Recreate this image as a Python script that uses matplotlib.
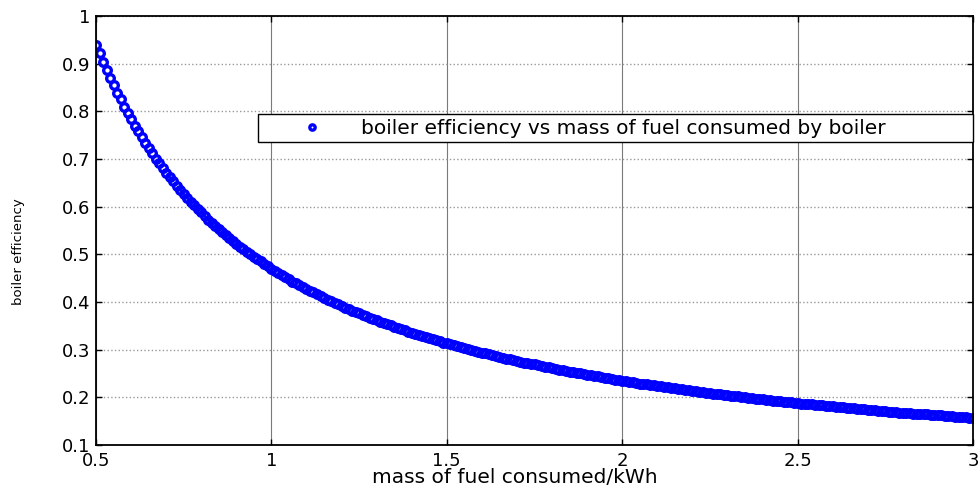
import matplotlib
matplotlib.use("Agg")
import matplotlib.pyplot as plt

plt.rcParams['font.family'] = ['DejaVu Sans']

mass = [
    0.50, 0.51, 0.52, 0.53, 0.54, 0.55, 0.56, 0.57, 0.58, 0.59,
    0.60, 0.61, 0.62, 0.63, 0.64, 0.65, 0.66, 0.67, 0.68, 0.69,
    0.70, 0.71, 0.72, 0.73, 0.74, 0.75, 0.76, 0.77, 0.78, 0.79,
    0.80, 0.81, 0.82, 0.83, 0.84, 0.85, 0.86, 0.87, 0.88, 0.89,
    0.90, 0.91, 0.92, 0.93, 0.94, 0.95, 0.96, 0.97, 0.98, 0.99,
    1.00, 1.01, 1.02, 1.03, 1.04, 1.05, 1.06, 1.07, 1.08, 1.09,
    1.10, 1.11, 1.12, 1.13, 1.14, 1.15, 1.16, 1.17, 1.18, 1.19,
    1.20, 1.21, 1.22, 1.23, 1.24, 1.25, 1.26, 1.27, 1.28, 1.29,
    1.30, 1.31, 1.32, 1.33, 1.34, 1.35, 1.36, 1.37, 1.38, 1.39,
    1.40, 1.41, 1.42, 1.43, 1.44, 1.45, 1.46, 1.47, 1.48, 1.49,
    1.50, 1.51, 1.52, 1.53, 1.54, 1.55, 1.56, 1.57, 1.58, 1.59,
    1.60, 1.61, 1.62, 1.63, 1.64, 1.65, 1.66, 1.67, 1.68, 1.69,
    1.70, 1.71, 1.72, 1.73, 1.74, 1.75, 1.76, 1.77, 1.78, 1.79,
    1.80, 1.81, 1.82, 1.83, 1.84, 1.85, 1.86, 1.87, 1.88, 1.89,
    1.90, 1.91, 1.92, 1.93, 1.94, 1.95, 1.96, 1.97, 1.98, 1.99,
    2.00, 2.01, 2.02, 2.03, 2.04, 2.05, 2.06, 2.07, 2.08, 2.09,
    2.10, 2.11, 2.12, 2.13, 2.14, 2.15, 2.16, 2.17, 2.18, 2.19,
    2.20, 2.21, 2.22, 2.23, 2.24, 2.25, 2.26, 2.27, 2.28, 2.29,
    2.30, 2.31, 2.32, 2.33, 2.34, 2.35, 2.36, 2.37, 2.38, 2.39,
    2.40, 2.41, 2.42, 2.43, 2.44, 2.45, 2.46, 2.47, 2.48, 2.49,
    2.50, 2.51, 2.52, 2.53, 2.54, 2.55, 2.56, 2.57, 2.58, 2.59,
    2.60, 2.61, 2.62, 2.63, 2.64, 2.65, 2.66, 2.67, 2.68, 2.69,
    2.70, 2.71, 2.72, 2.73, 2.74, 2.75, 2.76, 2.77, 2.78, 2.79,
    2.80, 2.81, 2.82, 2.83, 2.84, 2.85, 2.86, 2.87, 2.88, 2.89,
    2.90, 2.91, 2.92, 2.93, 2.94, 2.95, 2.96, 2.97, 2.98, 2.99,
    3.00,
]

efficiency = [
    0.940, 0.922, 0.904, 0.887, 0.870, 0.855, 0.839, 0.825, 0.810, 0.797,
    0.783, 0.770, 0.758, 0.746, 0.734, 0.723, 0.712, 0.701, 0.691, 0.681,
    0.671, 0.662, 0.653, 0.644, 0.635, 0.627, 0.618, 0.610, 0.603, 0.595,
    0.588, 0.580, 0.573, 0.566, 0.560, 0.553, 0.547, 0.540, 0.534, 0.528,
    0.522, 0.516, 0.511, 0.505, 0.500, 0.495, 0.490, 0.485, 0.480, 0.475,
    0.470, 0.465, 0.461, 0.456, 0.452, 0.448, 0.443, 0.439, 0.435, 0.431,
    0.427, 0.423, 0.420, 0.416, 0.412, 0.409, 0.405, 0.402, 0.398, 0.395,
    0.392, 0.388, 0.385, 0.382, 0.379, 0.376, 0.373, 0.370, 0.367, 0.364,
    0.362, 0.359, 0.356, 0.353, 0.351, 0.348, 0.346, 0.343, 0.341, 0.338,
    0.336, 0.333, 0.331, 0.329, 0.326, 0.324, 0.322, 0.320, 0.318, 0.315,
    0.313, 0.311, 0.309, 0.307, 0.305, 0.303, 0.301, 0.299, 0.297, 0.296,
    0.294, 0.292, 0.290, 0.288, 0.287, 0.285, 0.283, 0.281, 0.280, 0.278,
    0.276, 0.275, 0.273, 0.272, 0.270, 0.269, 0.267, 0.266, 0.264, 0.263,
    0.261, 0.260, 0.258, 0.257, 0.255, 0.254, 0.253, 0.251, 0.250, 0.249,
    0.247, 0.246, 0.245, 0.244, 0.242, 0.241, 0.240, 0.239, 0.237, 0.236,
    0.235, 0.234, 0.233, 0.232, 0.230, 0.229, 0.228, 0.227, 0.226, 0.225,
    0.224, 0.223, 0.222, 0.221, 0.220, 0.219, 0.218, 0.217, 0.216, 0.215,
    0.214, 0.213, 0.212, 0.211, 0.210, 0.209, 0.208, 0.207, 0.206, 0.205,
    0.204, 0.203, 0.203, 0.202, 0.201, 0.200, 0.199, 0.198, 0.197, 0.197,
    0.196, 0.195, 0.194, 0.193, 0.193, 0.192, 0.191, 0.190, 0.190, 0.189,
    0.188, 0.187, 0.187, 0.186, 0.185, 0.184, 0.184, 0.183, 0.182, 0.181,
    0.181, 0.180, 0.179, 0.179, 0.178, 0.177, 0.177, 0.176, 0.175, 0.175,
    0.174, 0.173, 0.173, 0.172, 0.172, 0.171, 0.170, 0.170, 0.169, 0.168,
    0.168, 0.167, 0.167, 0.166, 0.165, 0.165, 0.164, 0.164, 0.163, 0.163,
    0.162, 0.162, 0.161, 0.160, 0.160, 0.159, 0.159, 0.158, 0.158, 0.157,
    0.157,
]

x_ticks = [0.5, 1, 1.5, 2, 2.5, 3]
x_tick_labels = ["0.5", "1", "1.5", "2", "2.5", "3"]
y_ticks = [0.1, 0.2, 0.3, 0.4, 0.5, 0.6, 0.7, 0.8, 0.9, 1.0]
y_tick_labels = ["0.1", "0.2", "0.3", "0.4", "0.5", "0.6", "0.7", "0.8", "0.9", "1"]
legend_label = "boiler efficiency vs mass of fuel consumed by boiler"

fig = plt.figure(figsize=(9.8, 4.91), dpi=100)
ax = fig.add_axes([96 / 980, 1 - 445 / 491, (973 - 96) / 980, (445 - 16) / 491])

ax.plot(mass, efficiency, linestyle='none', marker='o', markersize=5.5,
        markerfacecolor='none', markeredgecolor='#0000ff', markeredgewidth=2.4,
        label=legend_label)

ax.set_xlim(0.5, 3)
ax.set_ylim(0.1, 1.0)
ax.set_xticks(x_ticks)
ax.set_xticklabels(x_tick_labels)
ax.set_yticks(y_ticks)
ax.set_yticklabels(y_tick_labels)

ax.xaxis.grid(True, color='#7a7a7a', linestyle='-', linewidth=0.8)
ax.yaxis.grid(True, color='#999999', linestyle=':', linewidth=1.0)
ax.set_axisbelow(True)

ax.tick_params(direction='in', length=4, width=1, top=True, right=True,
               labelsize=13, colors='black')
ax.tick_params(axis='x', pad=5)
ax.tick_params(axis='y', pad=4)
for s in ax.spines.values():
    s.set_linewidth(1.3)
    s.set_color('black')

ax.set_xlabel("mass of fuel consumed/kWh", fontsize=14.5)
ax.xaxis.set_label_coords((515 - 96) / 877, (445 - 468) / 429)
ax.set_ylabel("boiler efficiency", fontsize=9.5)
ax.yaxis.set_label_coords((25 - 96) / 877, (445 - 252) / 429)

leg = ax.legend(loc='lower left',
                bbox_to_anchor=(258 / 980, 1 - 142 / 491, (973 - 258) / 980, 29 / 491),
                bbox_transform=fig.transFigure, mode='expand',
                fontsize=14.5, frameon=True, fancybox=False, framealpha=1,
                edgecolor='black', numpoints=1, markerscale=0.7,
                handlelength=4.9, handletextpad=0.0, borderpad=0.22,
                borderaxespad=0)
leg.get_frame().set_linewidth(1.0)

fig.savefig("out.png", dpi=100)
